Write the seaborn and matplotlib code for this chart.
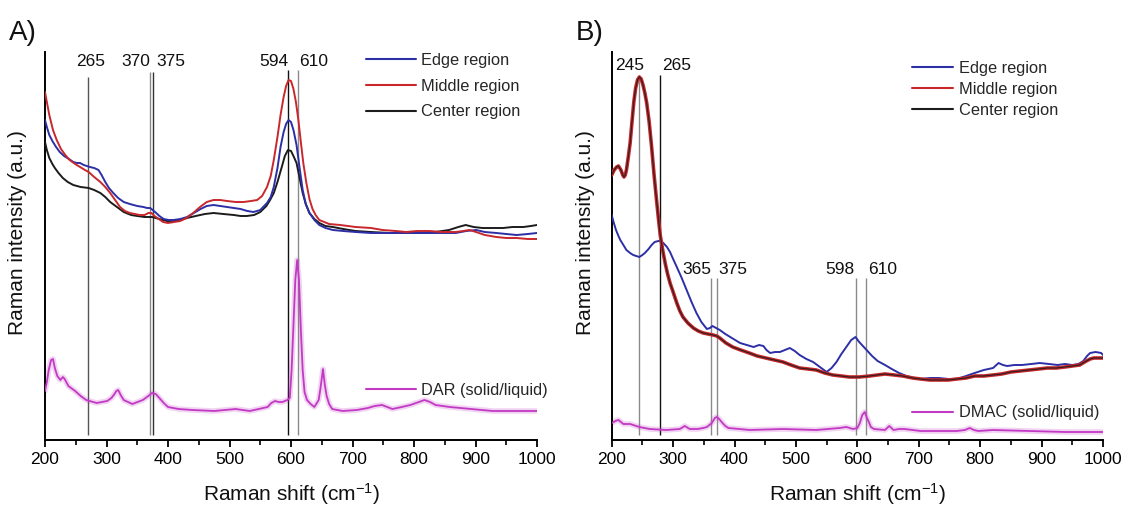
import numpy as np
import pandas as pd
import matplotlib
matplotlib.use("Agg")
import matplotlib.pyplot as plt
from matplotlib.lines import Line2D
import seaborn as sns

# ---------------- data ----------------
# Panel A  (intensity in arbitrary units)
a_middle_x = [200, 203, 207, 213, 219, 226, 233, 240, 249, 257, 265, 271, 280, 290, 298, 306, 314, 322, 330,
              338, 346, 354, 362, 368, 373, 378, 385, 392, 400, 410, 420, 430, 441, 452, 463, 474, 485, 496,
              510, 523, 535, 545, 553, 561, 567, 572, 578, 583, 588, 592, 596, 600, 604, 608, 612, 616, 620,
              625, 630, 635, 640, 646, 654, 662, 680, 705, 730, 749, 770, 787, 805, 825, 845, 868, 880, 890,
              901, 915, 934, 950, 967, 985, 1000]
a_middle_y = [348, 338, 325, 310, 300, 291, 285, 280, 276, 273, 270, 268, 263, 258, 253, 247, 240, 233, 229,
              227, 226, 225, 225, 227, 227, 224, 221, 218, 217, 218, 219, 222, 227, 233, 238, 240, 240, 239,
              238, 238, 239, 240, 244, 253, 264, 280, 303, 325, 343, 354, 360, 359, 351, 338, 320, 298, 277,
              257, 241, 231, 225, 220, 218, 216, 215, 213, 212, 210, 209, 208, 209, 209, 208, 208, 209, 210,
              208, 205, 203, 202, 202, 201, 201]

a_edge_x = [200, 203, 207, 212, 218, 224, 231, 239, 246, 252, 257, 263, 268, 273, 280, 287, 292, 298, 304,
            311, 319, 328, 338, 350, 360, 366, 371, 375, 379, 386, 393, 401, 409, 420, 431, 442, 453, 463,
            474, 485, 496, 507, 518, 529, 539, 550, 561, 567, 572, 578, 583, 588, 592, 596, 600, 604, 609,
            614, 619, 624, 630, 638, 646, 656, 668, 685, 705, 730, 760, 790, 814, 840, 868, 885, 901, 915,
            934, 950, 967, 985, 1000]
a_edge_y = [320, 313, 305, 299, 293, 288, 284, 281, 278, 277, 277, 275, 274, 273, 272, 270, 265, 258, 252,
            247, 242, 238, 236, 234, 233, 232, 232, 230, 228, 224, 221, 220, 220, 221, 223, 227, 231, 234,
            235, 234, 233, 232, 231, 229, 228, 230, 237, 243, 253, 272, 293, 308, 316, 320, 318, 310, 295,
            272, 250, 236, 227, 220, 215, 212, 210, 209, 208, 207, 207, 207, 207, 207, 207, 209, 210, 208,
            207, 206, 205, 206, 207]

a_center_x = [200, 203, 207, 212, 216, 222, 229, 237, 246, 258, 271, 280, 290, 298, 306, 317, 328, 340, 350,
              362, 374, 386, 398, 410, 420, 431, 445, 460, 474, 490, 507, 518, 528, 540, 550, 560, 566, 572,
              578, 585, 590, 595, 600, 604, 609, 614, 619, 624, 630, 638, 646, 656, 668, 685, 705, 730, 760,
              790, 814, 835, 857, 872, 884, 897, 911, 930, 945, 960, 978, 990, 1000]
a_center_y = [298, 290, 282, 276, 272, 267, 262, 258, 255, 253, 252, 250, 247, 243, 238, 233, 228, 225, 224,
              223, 223, 221, 219, 219, 220, 222, 224, 226, 227, 226, 225, 224, 224, 225, 228, 234, 240, 247,
              258, 273, 284, 290, 289, 284, 277, 262, 247, 236, 227, 221, 217, 214, 213, 211, 209, 208, 207,
              207, 207, 208, 210, 213, 215, 213, 212, 212, 212, 213, 213, 214, 215]

a_dar_x = [200, 203, 206, 210, 213, 216, 220, 225, 229, 232, 238, 249, 258, 267, 284, 301, 308, 313, 316,
           319, 323, 328, 342, 359, 368, 374, 380, 386, 393, 400, 417, 440, 475, 510, 533, 562, 568, 574,
           580, 586, 594, 598, 601, 604, 607, 610, 613, 616, 619, 622, 626, 632, 638, 645, 648, 652, 655,
           658, 662, 667, 684, 707, 725, 736, 748, 765, 780, 794, 808, 817, 826, 835, 858, 893, 928, 960, 1000]
a_dar_y = [49, 58, 70, 80, 81, 72, 64, 60, 63, 61, 54, 49, 44, 40, 37, 39, 42, 46, 49,
           50, 45, 40, 36, 40, 44, 47, 46, 42, 37, 33, 31, 30, 29, 31, 29, 33, 37, 39,
           38, 38, 40, 42, 70, 115, 160, 180, 160, 110, 70, 48, 40, 36, 33, 40, 52, 71, 55,
           44, 36, 31, 29, 30, 32, 34, 35, 31, 33, 35, 38, 40, 38, 35, 33, 31, 29, 29, 29]

a_peak_pos = [270, 370.5, 376, 595.5, 611]
a_peak_labels = ["265", "370", "375", "594", "610"]
a_label_x = [274, 347, 405, 572, 636]

# Panel B
b_mid_x = [200, 204, 208, 211, 215, 218, 220, 222, 224, 227, 230, 233, 236, 239, 242, 245, 248, 251, 254,
           257, 261, 265, 269, 273, 276, 279, 283, 287, 291, 295, 300, 306, 311, 316, 324, 333, 341, 349,
           357, 365, 371, 376, 386, 397, 410, 424, 437, 451, 465, 479, 492, 506, 520, 533, 547, 560, 574,
           587, 603, 620, 645, 660, 674, 690, 703, 718, 733, 748, 762, 777, 791, 806, 821, 835, 850, 865,
           880, 895, 909, 924, 938, 950, 962, 970, 979, 985, 991, 1000]
b_mid_y = [265, 270, 273, 274, 270, 265, 263, 265, 270, 283, 297, 318, 338, 352, 360, 363, 361, 355, 347,
           337, 318, 293, 265, 240, 222, 205, 190, 177, 166, 157, 148, 137, 129, 123, 117, 112, 109, 107,
           106, 105, 104, 102, 97, 93, 90, 87, 84, 82, 80, 78, 75, 72, 71, 70, 67, 65, 64,
           63, 63, 64, 66, 65, 64, 62, 61, 60, 60, 60, 61, 62, 64, 64, 65, 66, 68, 69,
           70, 71, 72, 72, 73, 74, 75, 78, 81, 82, 82, 82]

b_edge_x = [200, 203, 207, 211, 214, 219, 224, 230, 235, 240, 245, 250, 254, 260, 265, 270, 276, 280, 284,
            290, 295, 300, 306, 314, 322, 330, 338, 346, 355, 360, 364, 370, 376, 385, 393, 401, 409, 420,
            431, 440, 447, 452, 458, 466, 474, 482, 490, 498, 506, 517, 528, 539, 550, 558, 566, 574, 582,
            590, 597, 603, 609, 615, 624, 633, 645, 656, 668, 680, 692, 703, 718, 733, 748, 762, 777, 791,
            806, 821, 830, 837, 844, 856, 868, 883, 897, 912, 926, 938, 950, 960, 968, 974, 979, 988, 997, 1000]
b_edge_y = [225, 218, 210, 204, 200, 195, 190, 187, 185, 184, 183, 185, 187, 191, 195, 198, 199, 199, 197,
            193, 188, 181, 173, 162, 150, 138, 127, 118, 111, 112, 114, 112, 110, 106, 103, 100, 97, 95,
            93, 95, 94, 90, 87, 88, 88, 90, 92, 89, 85, 81, 78, 73, 68, 72, 78, 86, 93,
            100, 103, 98, 94, 90, 84, 79, 75, 71, 67, 64, 62, 61, 62, 62, 61, 61, 64, 67,
            70, 72, 77, 75, 74, 75, 75, 76, 77, 76, 75, 76, 75, 76, 79, 84, 87, 88, 87, 85]

b_dmac_x = [200, 206, 211, 215, 219, 230, 245, 262, 289, 311, 319, 327, 340, 349, 355, 363, 368, 371, 375,
            379, 385, 390, 425, 479, 533, 571, 582, 593, 600, 604, 608, 612, 615, 618, 622, 627, 645, 652,
            659, 668, 677, 703, 762, 775, 783, 790, 797, 821, 880, 938, 1000]
b_dmac_y = [17, 19, 20, 18, 16, 16, 13, 11, 10, 11, 14, 11, 11, 12, 13, 17, 22, 23, 21,
            18, 14, 12, 10, 11, 10, 12, 13, 11, 12, 17, 25, 28, 23, 19, 13, 11, 10, 14,
            10, 11, 11, 9, 9, 10, 12, 10, 9, 10, 9, 8, 8]

b_peak_pos = [245, 279, 362, 371.5, 597, 613.5]
b_peak_labels = ["245", "265", "365", "375", "598", "610"]
b_label_x = [230, 306, 338, 397, 571, 641]

region_labels = ["Edge region", "Middle region", "Center region"]

# ---------------- styling ----------------
sns.set_style("white")
plt.rcParams["font.family"] = ["Liberation Sans", "DejaVu Sans"]
plt.rcParams["mathtext.default"] = "regular"

C_BLUE = "#2d2fa6"
C_RED = "#c8282c"
C_BLACK = "#1c1c1c"
C_MAG = "#c23ac4"
LEG_FS = 11.8

W, H = 1126, 505
fig = plt.figure(figsize=(W / 100, H / 100), dpi=100)
fig.patch.set_facecolor("white")
axA = fig.add_axes([45 / W, 65 / H, 492 / W, 388 / H])
axB = fig.add_axes([611.7 / W, 65 / H, 491.3 / W, 388 / H])


def draw(ax, x, y, color, lw, z, alpha=1.0):
    df = pd.DataFrame({"shift": x, "intensity": y})
    sns.lineplot(data=df, x="shift", y="intensity", ax=ax, color=color, lw=lw,
                 zorder=z, alpha=alpha, legend=False, estimator=None, sort=False)


def style_axes(ax, ylab_x):
    ax.set_xlim(200, 1000)
    ax.set_ylim(0, 388)
    ax.set_yticks([])
    ax.set_xticks(range(200, 1001, 100))
    ax.set_xticks(range(250, 1000, 100), minor=True)
    for s in ["top", "right"]:
        ax.spines[s].set_visible(False)
    for s in ["left", "bottom"]:
        ax.spines[s].set_color("black")
        ax.spines[s].set_linewidth(1.4)
    ax.tick_params(axis="x", which="major", direction="out", length=5, width=1.3,
                   labelsize=12.5, pad=4, colors="black", bottom=True)
    ax.tick_params(axis="x", which="minor", direction="out", length=3.5, width=1.2,
                   colors="black", bottom=True)
    ax.set_xlabel("Raman shift (cm$^{-1}$)", fontsize=15, color="#111111")
    ax.xaxis.set_label_coords(0.5, -0.105)
    ax.set_ylabel("Raman intensity (a.u.)", fontsize=15, color="#111111")
    ax.yaxis.set_label_coords(ylab_x, 0.535)
    ax.set_facecolor("white")


def add_legends(ax, x0, top, hlen, spacing, extra_label, extra_y):
    h_reg = [Line2D([], [], color=c, lw=1.5) for c in (C_BLUE, C_RED, C_BLACK)]
    leg = ax.legend(h_reg, region_labels, loc="upper left", bbox_to_anchor=(x0 / W, 1 - top / H),
                    bbox_transform=fig.transFigure, frameon=False, borderaxespad=0, borderpad=0,
                    handlelength=hlen, handletextpad=0.33, labelspacing=spacing, fontsize=LEG_FS)
    ax.add_artist(leg)
    ax.legend([Line2D([], [], color=C_MAG, lw=1.5)], [extra_label], loc="center left",
              bbox_to_anchor=(x0 / W, 1 - extra_y / H), bbox_transform=fig.transFigure,
              frameon=False, borderaxespad=0, borderpad=0, handlelength=hlen,
              handletextpad=0.33, fontsize=LEG_FS)


# ---------------- panel A ----------------
draw(axA, a_dar_x, a_dar_y, C_MAG, 4.0, 2, alpha=0.22)
draw(axA, a_dar_x, a_dar_y, C_MAG, 1.3, 3)
draw(axA, a_center_x, a_center_y, C_BLACK, 1.4, 3)
draw(axA, a_edge_x, a_edge_y, C_BLUE, 1.4, 4)
draw(axA, a_middle_x, a_middle_y, C_RED, 1.4, 5)

a_line_cols = ["#555555", "#8a8a8a", "#333333", "#111111", "#8a8a8a"]
a_line_top = [363, 368, 368, 370, 370]
for xv, col, top in zip(a_peak_pos, a_line_cols, a_line_top):
    axA.vlines(xv, 5, top, color=col, lw=1.0, zorder=1)
for lx, lab in zip(a_label_x, a_peak_labels):
    axA.text(lx, 379, lab, ha="center", va="center", fontsize=12.5, color="#111111")

style_axes(axA, -0.036)
add_legends(axA, 366, 53, 3.05, 0.65, "DAR (solid/liquid)", 390)

# ---------------- panel B ----------------
draw(axB, b_dmac_x, b_dmac_y, C_MAG, 4.0, 2, alpha=0.22)
draw(axB, b_dmac_x, b_dmac_y, C_MAG, 1.3, 3)
draw(axB, b_edge_x, b_edge_y, C_BLUE, 1.4, 4)
draw(axB, b_mid_x, b_mid_y, C_RED, 2.6, 5)
draw(axB, b_mid_x, b_mid_y, C_BLACK, 0.9, 6, alpha=0.85)

b_line_cols = ["#8a8a8a", "#111111", "#8a8a8a", "#8a8a8a", "#8a8a8a", "#8a8a8a"]
b_line_top = [365, 365, 162, 162, 162, 162]
b_label_y = [375, 375, 170, 170, 170, 170]
for xv, col, top in zip(b_peak_pos, b_line_cols, b_line_top):
    axB.vlines(xv, 5, top, color=col, lw=1.0, zorder=1)
for lx, ly, lab in zip(b_label_x, b_label_y, b_peak_labels):
    axB.text(lx, ly, lab, ha="center", va="center", fontsize=12.5, color="#111111")

style_axes(axB, -0.033)
add_legends(axB, 912, 60.5, 2.53, 0.37, "DMAC (solid/liquid)", 413)

# panel letters
fig.text(9 / W, 1 - 40 / H, "A)", fontsize=20, ha="left", va="baseline", color="#111111")
fig.text(576 / W, 1 - 40 / H, "B)", fontsize=20, ha="left", va="baseline", color="#111111")

fig.savefig("out.png", dpi=100, facecolor="white")
